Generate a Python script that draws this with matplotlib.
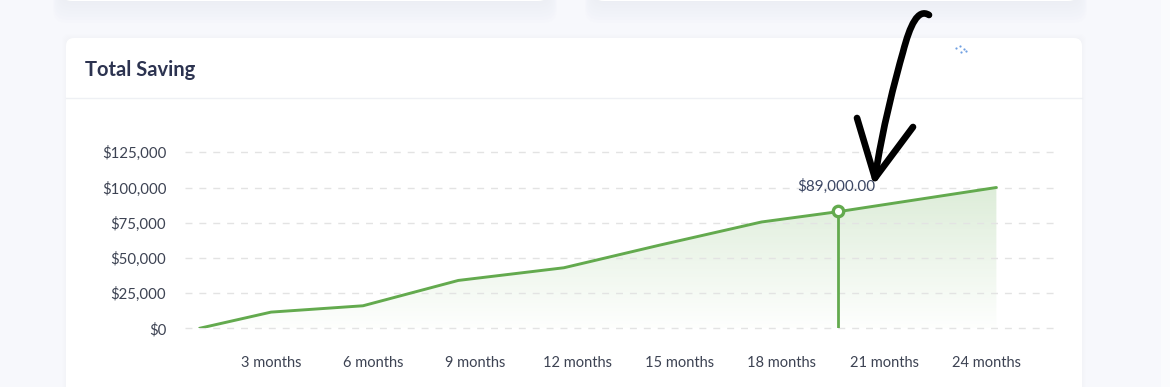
import numpy as np
import matplotlib.pyplot as plt
from matplotlib.patches import FancyBboxPatch, PathPatch, Rectangle
from matplotlib.path import Path

# data (x in months, y in dollars)
months = [0.9, 3.0, 5.7, 8.5, 11.6, 14.4, 17.4, 19.7, 24.3]
savings = [0, 11500, 16000, 34000, 43000, 59000, 75500, 83000, 100000]
tick_months = [3, 6, 9, 12, 15, 18, 21, 24]
tick_labels = [f"{m} months" for m in tick_months]
y_ticks = [0, 25000, 50000, 75000, 100000, 125000]
hover_month = 19.65
hover_value = 83000
hover_label = "$89,000.00"

plt.rcParams['font.family'] = ['Lato', 'DejaVu Sans']

GREEN = '#63aa4e'
TEXT = '#3d4353'
W, H = 1170, 387

fig = plt.figure(figsize=(W / 100, H / 100), dpi=100)
fig.patch.set_facecolor('#f7f8fc')

# background layer: page, cards, title (pixel coords)
bg = fig.add_axes([0, 0, 1, 1], zorder=0)
bg.set_xlim(0, W)
bg.set_ylim(H, 0)
bg.axis('off')
bg.add_patch(Rectangle((1161, 0), W - 1161, H, color='#fafbfd', lw=0))

# bottoms of the cards above, with a soft shadow
for x0, x1 in [(60, 550), (592, 1080)]:
    for k in range(8):
        bg.add_patch(FancyBboxPatch((x0 - k, -30), x1 - x0 + 2 * k, 32 + k * 3,
                                    boxstyle='round,pad=0,rounding_size=14',
                                    fc='#dfe2ea', ec='none', alpha=0.05))
    bg.add_patch(FancyBboxPatch((x0, -30), x1 - x0, 31,
                                boxstyle='round,pad=0,rounding_size=12',
                                fc='white', ec='none'))

# main card
for k in range(5):
    bg.add_patch(FancyBboxPatch((66 - k, 38 - k), 1016 + 2 * k, 400,
                                boxstyle='round,pad=0,rounding_size=8',
                                fc='#e8eaf0', ec='none', alpha=0.06))
bg.add_patch(FancyBboxPatch((66, 38), 1016, 400,
                            boxstyle='round,pad=0,rounding_size=8',
                            fc='white', ec='none'))
bg.plot([66, 1082], [98, 98], color='#eef0f4', lw=1)
bg.text(85, 70, "Total Saving", fontsize=14.5, fontweight='bold',
        color='#2c3350', va='center', ha='left')
bg.scatter([956, 960, 964, 961, 966], [48, 46, 49, 52, 51], s=2.5,
           color='#6f9fe2', lw=0)

# chart
ax = fig.add_axes([185 / W, (H - 328.3) / H, 872 / W, 176 / H], zorder=2)
ax.patch.set_alpha(0)
ax.set_xlim(0.473, 26.08)
ax.set_ylim(0, 125000)
for s in ax.spines.values():
    s.set_visible(False)

ax.set_yticks(y_ticks)
ax.yaxis.set_major_formatter(plt.FuncFormatter(lambda v, p: f"${v:,.0f}"))
ax.set_xticks(tick_months, tick_labels)
ax.tick_params(axis='y', length=0, pad=13.5, labelsize=10.8, labelcolor=TEXT)
ax.tick_params(axis='x', length=0, pad=20, labelsize=10.5, labelcolor=TEXT)
ax.grid(axis='y', color='#e3e3e3', linestyle=(0, (5, 5)), linewidth=1)
ax.grid(axis='x', visible=False)
for gl in ax.get_ygridlines():
    gl.set_clip_on(False)

# gradient area under the line
fill = ax.fill_between(months, savings, 0, color='none', lw=0)
grad = np.zeros((256, 2, 4))
grad[..., 0], grad[..., 1], grad[..., 2] = 0.39, 0.67, 0.31
grad[..., 3] = np.linspace(0.01, 0.22, 256)[:, None]
im = ax.imshow(grad, extent=[months[0], months[-1], 0, max(savings)],
               origin='lower', aspect='auto', zorder=1, interpolation='bilinear')
im.set_clip_path(fill.get_paths()[0], transform=ax.transData)

ax.plot(months, savings, color=GREEN, lw=2.1, zorder=3, solid_capstyle='round')
ax.vlines(hover_month, 0, hover_value, color=GREEN, lw=2, zorder=3)
ax.plot(hover_month, hover_value, 'o', ms=7.5, mfc='white', mec=GREEN,
        mew=2.4, zorder=5)
ax.annotate(hover_label, (hover_month, hover_value), xytext=(-1.5, 18),
            textcoords='offset points', ha='center', va='center',
            fontsize=11, color='#3b4663', zorder=6)

# hand-drawn arrow on top
fg = fig.add_axes([0, 0, 1, 1], zorder=10)
fg.patch.set_alpha(0)
fg.set_xlim(0, W)
fg.set_ylim(H, 0)
fg.axis('off')
shaft = Path([(929, 15), (918, 8), (910, 25), (903, 52),
              (895, 80), (882, 130), (875, 178)],
             [Path.MOVETO, Path.CURVE4, Path.CURVE4, Path.CURVE4,
              Path.CURVE4, Path.CURVE4, Path.CURVE4])
fg.add_patch(PathPatch(shaft, fc='none', ec='black', lw=4.8,
                       capstyle='round', joinstyle='round'))
fg.plot([857, 875, 913], [118, 178, 127], color='black', lw=4.8,
        solid_capstyle='round', solid_joinstyle='round')

fig.savefig('out.png', dpi=100, facecolor=fig.get_facecolor())
